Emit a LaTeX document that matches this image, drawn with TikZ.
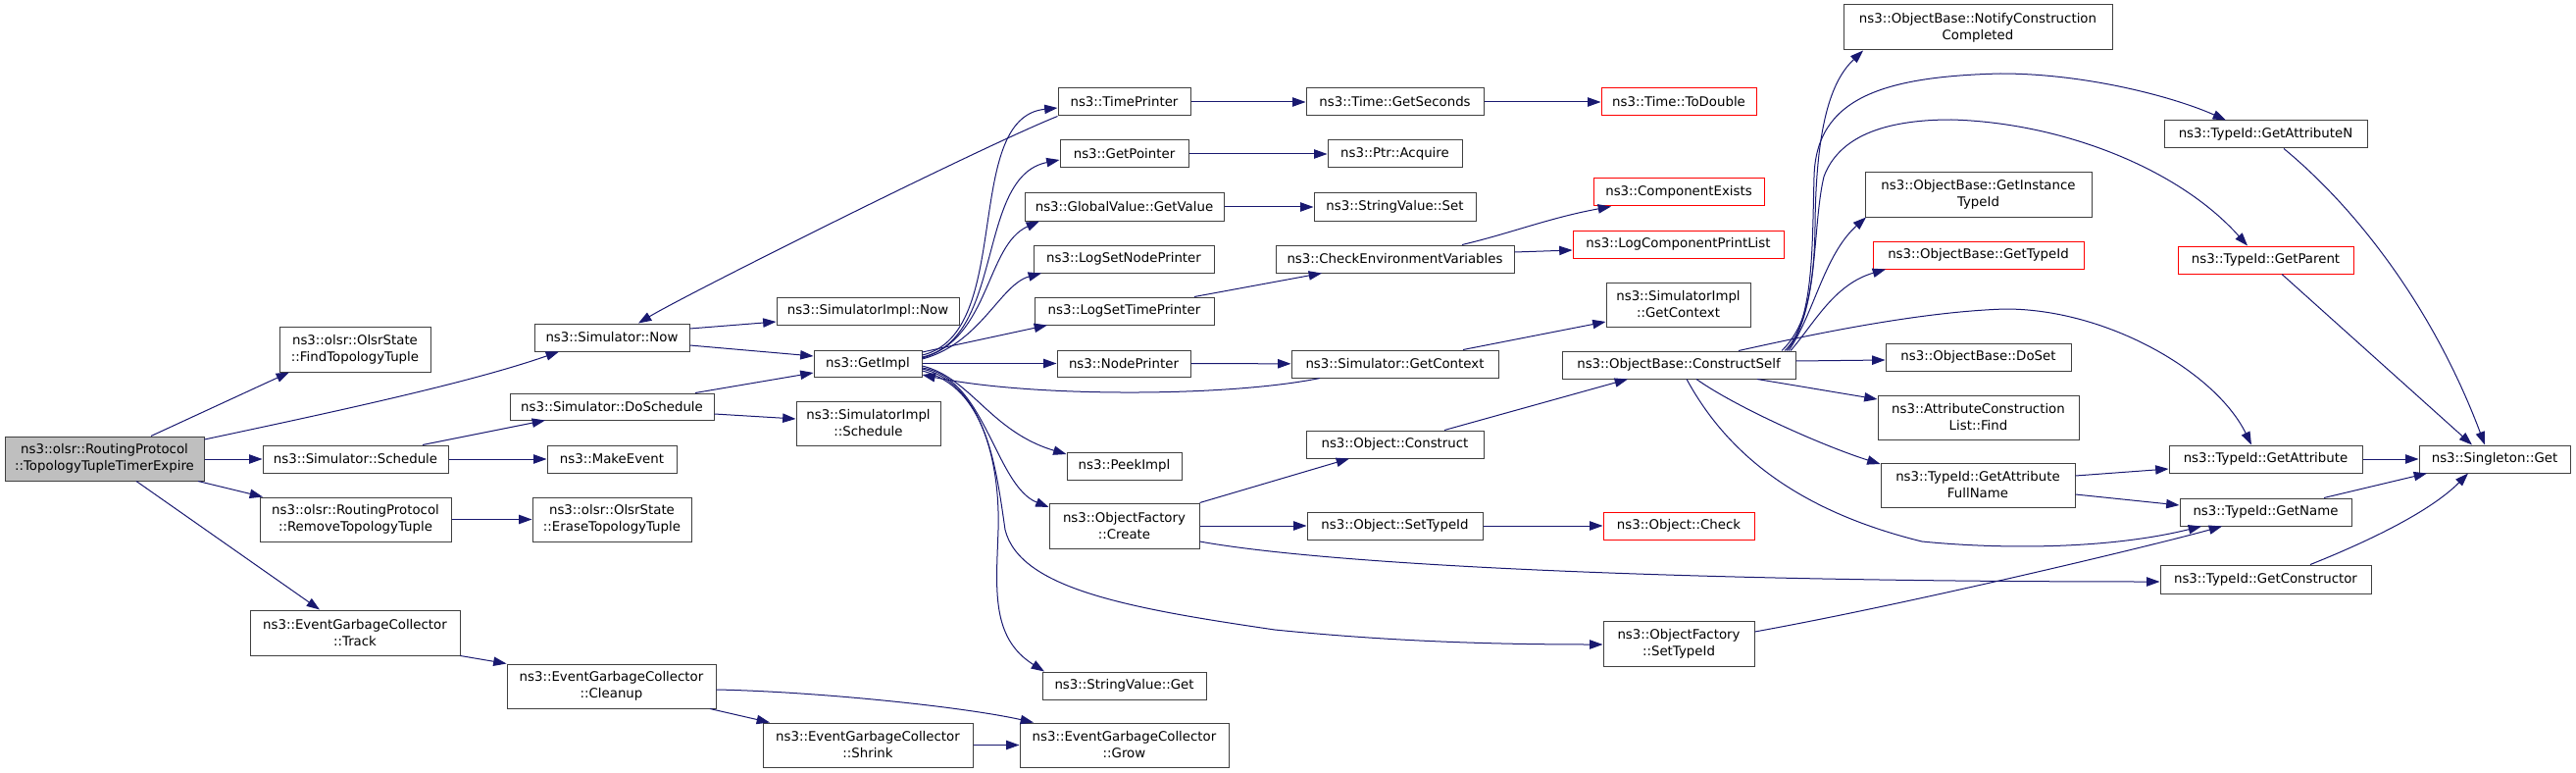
\documentclass[tikz,border=0pt]{standalone}
\usepackage{fontspec}
\setmainfont{DejaVu Sans}
\usetikzlibrary{arrows.meta}
\definecolor{mblue}{HTML}{191970}
\tikzset{
  box/.style={draw=black!75, line width=0.75pt, fill=white, inner sep=0pt, align=center, font=\fontsize{10}{12.75}\selectfont},
  redbox/.style={box, draw=red},
  rootbox/.style={box, fill=black!25},
  edge/.style={draw=mblue, line width=0.75pt, -{Triangle[length=10pt,width=7pt]}}
}
\newcommand\mkbox[7]{\node[#1,minimum width={(#5-#3)*0.75pt},minimum height={(#6-#4)*0.75pt}] (#2) at ({(#3+#5)/2},{(#4+#6)/2}) {#7};}
\begin{document}
\begin{tikzpicture}[x=0.75pt,y=-0.75pt]
\useasboundingbox (0,0) rectangle (2627,788);
% nodes
\mkbox{rootbox}{root}{5}{445}{208}{490}{ns3::olsr::RoutingProtocol\\::TopologyTupleTimerExpire}
\mkbox{box}{ftt}{285}{333}{439}{379}{ns3::olsr::OlsrState\\::FindTopologyTuple}
\mkbox{box}{snow}{545}{330}{703}{358}{ns3::Simulator::Now}
\mkbox{box}{sdos}{520}{401}{728}{428}{ns3::Simulator::DoSchedule}
\mkbox{box}{ssch}{268}{454}{457}{482}{ns3::Simulator::Schedule}
\mkbox{box}{mkev}{558}{454}{690}{482}{ns3::MakeEvent}
\mkbox{box}{rtt}{265}{507}{460}{552}{ns3::olsr::RoutingProtocol\\::RemoveTopologyTuple}
\mkbox{box}{ett}{543}{507}{705}{552}{ns3::olsr::OlsrState\\::EraseTopologyTuple}
\mkbox{box}{trk}{255}{622}{469}{668}{ns3::EventGarbageCollector\\::Track}
\mkbox{box}{cln}{517}{677}{730}{722}{ns3::EventGarbageCollector\\::Cleanup}
\mkbox{box}{shr}{778}{737}{992}{782}{ns3::EventGarbageCollector\\::Shrink}
\mkbox{box}{grw}{1040}{737}{1253}{782}{ns3::EventGarbageCollector\\::Grow}
\mkbox{box}{sinow}{792}{303}{978}{331}{ns3::SimulatorImpl::Now}
\mkbox{box}{gimp}{830}{357}{940}{384}{ns3::GetImpl}
\mkbox{box}{sisch}{812}{409}{959}{454}{ns3::SimulatorImpl\\::Schedule}
\mkbox{box}{tpr}{1079}{90}{1214}{118}{ns3::TimePrinter}
\mkbox{box}{gptr}{1081}{143}{1212}{171}{ns3::GetPointer}
\mkbox{box}{gvgv}{1045}{197}{1248}{225}{ns3::GlobalValue::GetValue}
\mkbox{box}{lsnp}{1054}{250}{1238}{278}{ns3::LogSetNodePrinter}
\mkbox{box}{lstp}{1055}{303}{1238}{331}{ns3::LogSetTimePrinter}
\mkbox{box}{npr}{1078}{357}{1214}{384}{ns3::NodePrinter}
\mkbox{box}{pimp}{1088}{461}{1205}{489}{ns3::PeekImpl}
\mkbox{box}{ofc}{1070}{513}{1223}{559}{ns3::ObjectFactory\\::Create}
\mkbox{box}{svg}{1063}{685}{1230}{713}{ns3::StringValue::Get}
\mkbox{box}{tgs}{1332}{90}{1513}{118}{ns3::Time::GetSeconds}
\mkbox{box}{pacq}{1354}{143}{1491}{171}{ns3::Ptr::Acquire}
\mkbox{box}{svs}{1340}{197}{1505}{225}{ns3::StringValue::Set}
\mkbox{box}{cev}{1301}{250}{1544}{278}{ns3::CheckEnvironmentVariables}
\mkbox{box}{sgc}{1317}{357}{1528}{385}{ns3::Simulator::GetContext}
\mkbox{box}{ocon}{1332}{439}{1513}{467}{ns3::Object::Construct}
\mkbox{box}{osti}{1333}{522}{1512}{550}{ns3::Object::SetTypeId}
\mkbox{redbox}{ttd}{1633}{90}{1791}{118}{ns3::Time::ToDouble}
\mkbox{redbox}{cex}{1625}{182}{1799}{210}{ns3::ComponentExists}
\mkbox{redbox}{lcpl}{1604}{235}{1819}{263}{ns3::LogComponentPrintList}
\mkbox{box}{sigc}{1638}{288}{1785}{333}{ns3::SimulatorImpl\\::GetContext}
\mkbox{box}{ocs}{1593}{358}{1831}{386}{ns3::ObjectBase::ConstructSelf}
\mkbox{redbox}{ochk}{1635}{522}{1789}{550}{ns3::Object::Check}
\mkbox{box}{ofst}{1635}{633}{1789}{679}{ns3::ObjectFactory\\::SetTypeId}
\mkbox{box}{oncc}{1880}{5}{2154}{51}{ns3::ObjectBase::NotifyConstruction\\Completed}
\mkbox{box}{ogit}{1902}{176}{2133}{221}{ns3::ObjectBase::GetInstance\\TypeId}
\mkbox{redbox}{ogti}{1910}{246}{2125}{274}{ns3::ObjectBase::GetTypeId}
\mkbox{box}{ods}{1923}{350}{2112}{378}{ns3::ObjectBase::DoSet}
\mkbox{box}{acf}{1915}{403}{2120}{448}{ns3::AttributeConstruction\\List::Find}
\mkbox{box}{tgafn}{1918}{472}{2116}{517}{ns3::TypeId::GetAttribute\\FullName}
\mkbox{box}{tgan}{2207}{123}{2414}{151}{ns3::TypeId::GetAttributeN}
\mkbox{redbox}{tgp}{2221}{251}{2400}{279}{ns3::TypeId::GetParent}
\mkbox{box}{tga}{2212}{454}{2409}{482}{ns3::TypeId::GetAttribute}
\mkbox{box}{tgn}{2223}{508}{2398}{536}{ns3::TypeId::GetName}
\mkbox{box}{tgc}{2203}{576}{2418}{605}{ns3::TypeId::GetConstructor}
\mkbox{box}{sgl}{2467}{454}{2621}{482}{ns3::Singleton::Get}
% edges
\draw[edge] (154,0 |- root.north) -- (295,0 |- ftt.south);
\draw[edge] (root.east |- 0,448) .. controls (340,420) and (480,390) .. (570,0 |- snow.south);
\draw[edge] (root.east |- 0,468) -- (ssch.west |- 0,468);
\draw[edge] (202,0 |- root.south) -- (268,0 |- rtt.north);
\draw[edge] (139,0 |- root.south) -- (326,0 |- trk.north);
\draw[edge] (431,0 |- ssch.north) -- (556,0 |- sdos.south);
\draw[edge] (ssch) -- (mkev);
\draw[edge] (rtt) -- (ett);
\draw[edge] (trk.south east) -- (cln.north west);
\draw[edge] (724,0 |- cln.south) -- (785,0 |- shr.north);
\draw[edge] (cln.east |- 0,703) .. controls (830,705) and (980,720) .. (1054,0 |- grw.north);
\draw[edge] (shr) -- (grw);
\draw[edge] (snow.east |- 0,335) -- (sinow.west |- 0,328);
\draw[edge] (snow.east |- 0,352) -- (gimp.west |- 0,363);
\draw[edge] (709,0 |- sdos.north) -- (gimp.west |- 0,380);
\draw[edge] (sdos.east |- 0,422) -- (sisch.west |- 0,427);
\draw[edge] (tpr.south west) .. controls (1000,150) and (700,300) .. (651,0 |- snow.north);
\draw[edge] (gimp.east |- 0,362) .. controls (1035,340) and (980,120) .. (tpr.west |- 0,110);
\draw[edge] (gimp.east |- 0,364) .. controls (1025,345) and (995,180) .. (gptr.west |- 0,163);
\draw[edge] (gimp.east |- 0,365) .. controls (1010,345) and (1005,250) .. (1060,0 |- gvgv.south);
\draw[edge] (gimp.east |- 0,366) .. controls (1000,350) and (1020,290) .. (1062,0 |- lsnp.south);
\draw[edge] (gimp.east |- 0,359) -- (1068,0 |- lstp.south);
\draw[edge] (gimp) -- (npr);
\draw[edge] (gimp.east |- 0,373) .. controls (990,385) and (1010,440) .. (pimp.west |- 0,463);
\draw[edge] (gimp.east |- 0,375) .. controls (1005,385) and (1015,495) .. (ofc.west |- 0,517);
\draw[edge] (gimp.east |- 0,376) .. controls (1000,390) and (1020,470) .. (1018,540) .. controls (1016,600) and (1010,650) .. (1065,0 |- svg.north);
\draw[edge] (gimp.east |- 0,378) .. controls (1005,395) and (1015,470) .. (1025,540) .. controls (1040,600) and (1150,620) .. (1300,642) .. controls (1400,652) and (1500,657) .. (ofst.west |- 0,657);
\draw[edge] (1346,0 |- sgc.south) .. controls (1250,405) and (1050,405) .. (gimp.east |- 0,382);
\draw[edge] (npr) -- (sgc);
\draw[edge] (tpr) -- (tgs);
\draw[edge] (gptr) -- (pacq);
\draw[edge] (gvgv) -- (svs);
\draw[edge] (1218,0 |- lstp.north) -- (1348,0 |- cev.south);
\draw[edge] (tgs) -- (ttd);
\draw[edge] (1491,0 |- cev.north) .. controls (1540,238) and (1580,222) .. (1643,0 |- cex.south);
\draw[edge] (cev.east |- 0,257) -- (lcpl.west |- 0,255);
\draw[edge] (1492,0 |- sgc.north) -- (sigc.west |- 0,328);
\draw[edge] (ofc.north east) -- (1376,0 |- ocon.south);
\draw[edge] (ofc) -- (osti);
\draw[edge] (ofc.east |- 0,552) .. controls (1350,575) and (1700,593) .. (tgc.west |- 0,593);
\draw[edge] (osti) -- (ochk);
\draw[edge] (1473,0 |- ocon.north) -- (1660,0 |- ocs.south);
\draw[edge] (ofst.east |- 0,644) .. controls (1950,615) and (2200,555) .. (2266,0 |- tgn.south);
\draw[edge] (1817,0 |- ocs.north) .. controls (1840,335) and (1850,300) .. (1851,230) .. controls (1852,120) and (1870,80) .. (1900,0 |- oncc.south);
\draw[edge] (1820,0 |- ocs.north) .. controls (1850,330) and (1848,250) .. (1850,180) .. controls (1852,100) and (1920,78) .. (2040,75) .. controls (2130,75) and (2220,100) .. (2270,0 |- tgan.north);
\draw[edge] (1822,0 |- ocs.north) .. controls (1855,320) and (1848,230) .. (1860,180) .. controls (1875,140) and (1920,122) .. (1990,122) .. controls (2100,125) and (2220,170) .. (2292,0 |- tgp.north);
\draw[edge] (1824,0 |- ocs.north) .. controls (1850,320) and (1860,260) .. (1903,0 |- ogit.south);
\draw[edge] (1826,0 |- ocs.north) .. controls (1850,330) and (1870,290) .. (1923,0 |- ogti.south);
\draw[edge] (1773,0 |- ocs.north) .. controls (1830,345) and (1950,318) .. (2045,315) .. controls (2150,315) and (2260,380) .. (2296,0 |- tga.north);
\draw[edge] (ocs.east |- 0,368) -- (ods.west |- 0,367);
\draw[edge] (1792,0 |- ocs.south) -- (acf.west |- 0,407);
\draw[edge] (1730,0 |- ocs.south) .. controls (1770,415) and (1860,455) .. (tgafn.west |- 0,473);
\draw[edge] (1720,0 |- ocs.south) .. controls (1760,460) and (1830,520) .. (1960,552) .. controls (2040,560) and (2150,560) .. (2245,0 |- tgn.south);
\draw[edge] (tgafn.east |- 0,485) -- (tga.west |- 0,478);
\draw[edge] (tgafn.east |- 0,504) -- (tgn.west |- 0,515);
\draw[edge] (tga) -- (sgl);
\draw[edge] (2370,0 |- tgn.north) -- (2475,0 |- sgl.south);
\draw[edge] (2356,0 |- tgc.north) .. controls (2420,550) and (2480,520) .. (2517,0 |- sgl.south);
\draw[edge] (2329,0 |- tgan.south) .. controls (2400,210) and (2480,310) .. (2534,0 |- sgl.north);
\draw[edge] (2327,0 |- tgp.south) -- (2521,0 |- sgl.north);
\end{tikzpicture}
\end{document}
